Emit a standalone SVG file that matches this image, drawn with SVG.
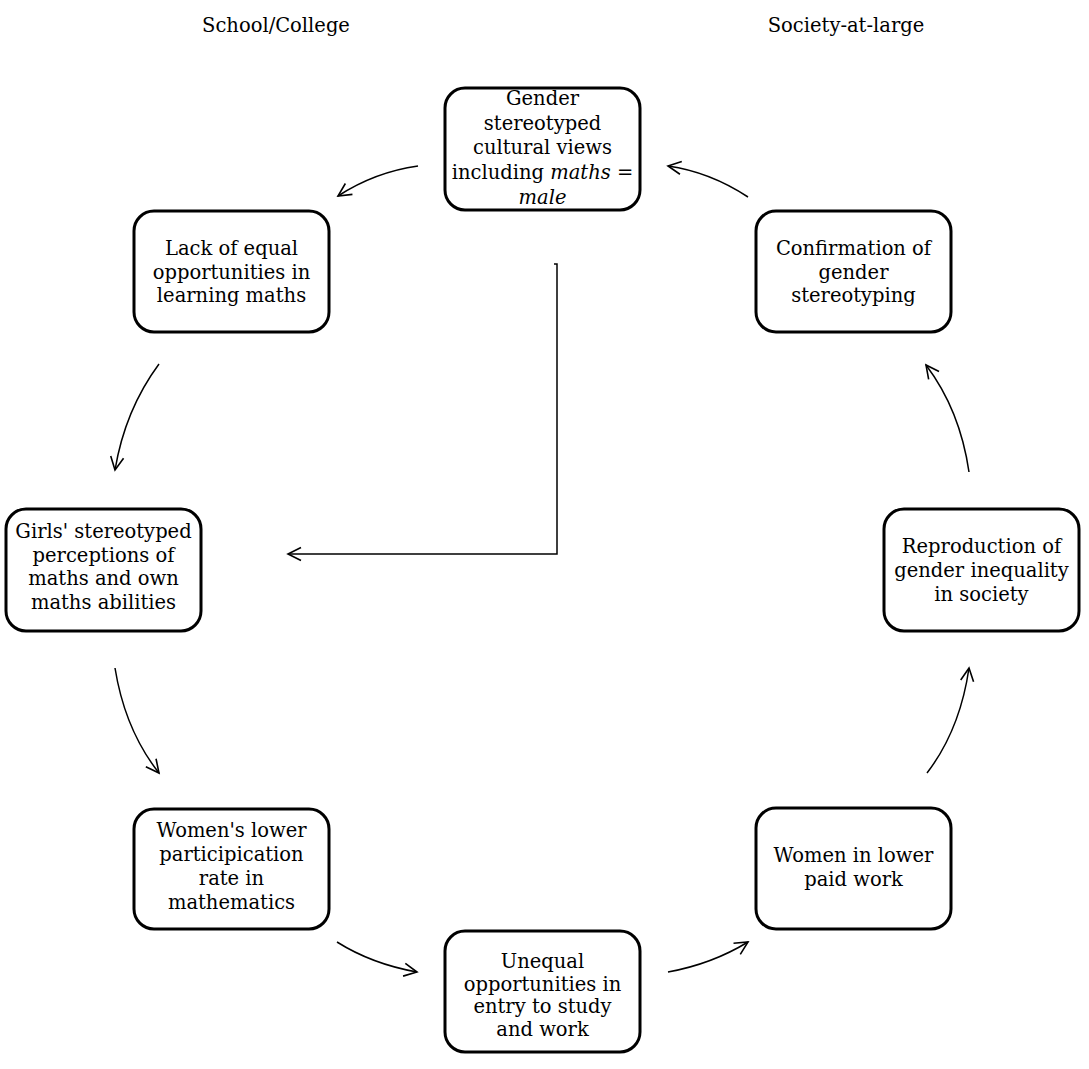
<svg xmlns="http://www.w3.org/2000/svg" width="1089" height="1069" viewBox="0 0 1089 1069">
<style>
.box{fill:#fff;stroke:#000;stroke-width:3}
.t{font-family:"DejaVu Serif","Liberation Serif",serif;font-size:19.5px;fill:#000;text-anchor:middle}
.h{font-family:"DejaVu Serif","Liberation Serif",serif;font-size:19.5px;fill:#000;text-anchor:middle}
.c{fill:none;stroke:#000;stroke-width:1.5}
</style>
<defs>
<marker id="ah" markerUnits="userSpaceOnUse" markerWidth="20" markerHeight="20" viewBox="-15 -10 20 20" refX="0" refY="0" orient="auto">
<path d="M-13,-6.5 L0,0 L-13,6.5" fill="none" stroke="#000" stroke-width="1.6"/>
</marker>
</defs>
<rect width="1089" height="1069" fill="#fff"/>
<text class="h" x="276" y="32">School/College</text>
<text class="h" x="846" y="32">Society-at-large</text>
<g id="connectors">
<path class="c" d="M418,166 Q375,172 338,196" marker-end="url(#ah)"/>
<path class="c" d="M159,364 Q125,410 115,470" marker-end="url(#ah)"/>
<path class="c" d="M115,668 Q125,730 159,773" marker-end="url(#ah)"/>
<path class="c" d="M337,942 Q372,964 417,972" marker-end="url(#ah)"/>
<path class="c" d="M668,972 Q712,964 748,942" marker-end="url(#ah)"/>
<path class="c" d="M927,773 Q960,730 969,668" marker-end="url(#ah)"/>
<path class="c" d="M969,472 Q960,410 926,365" marker-end="url(#ah)"/>
<path class="c" d="M748,197 Q710,172 668,166" marker-end="url(#ah)"/>
<path class="c" d="M554,264 L557,264 L557,554 L288,554" marker-end="url(#ah)"/>
</g>
<g id="n1">
<rect class="box" x="445" y="88" width="195" height="122" rx="20"/>
<text class="t" x="542.5" y="105">Gender</text>
<text class="t" x="542.5" y="130">stereotyped</text>
<text class="t" x="542.5" y="154">cultural views</text>
<text class="t" x="542.5" y="179">including <tspan font-style="italic">maths</tspan> =</text>
<text class="t" x="542.5" y="204" font-style="italic">male</text>
</g>
<g id="n2">
<rect class="box" x="134" y="211" width="195" height="121" rx="20"/>
<text class="t" x="231.5" y="255">Lack of equal</text>
<text class="t" x="231.5" y="279">opportunities in</text>
<text class="t" x="231.5" y="302">learning maths</text>
</g>
<g id="n3">
<rect class="box" x="6" y="509" width="195" height="122" rx="20"/>
<text class="t" x="103.5" y="538">Girls' stereotyped</text>
<text class="t" x="103.5" y="562">perceptions of</text>
<text class="t" x="103.5" y="585">maths and own</text>
<text class="t" x="103.5" y="609">maths abilities</text>
</g>
<g id="n4">
<rect class="box" x="134" y="809" width="195" height="120" rx="20"/>
<text class="t" x="231.5" y="837">Women's lower</text>
<text class="t" x="231.5" y="861">participication</text>
<text class="t" x="231.5" y="885">rate in</text>
<text class="t" x="231.5" y="909">mathematics</text>
</g>
<g id="n5">
<rect class="box" x="445" y="931" width="195" height="121" rx="20"/>
<text class="t" x="542.5" y="968">Unequal</text>
<text class="t" x="542.5" y="991">opportunities in</text>
<text class="t" x="542.5" y="1013">entry to study</text>
<text class="t" x="542.5" y="1036">and work</text>
</g>
<g id="n6">
<rect class="box" x="756" y="808" width="195" height="121" rx="20"/>
<text class="t" x="853.5" y="862">Women in lower</text>
<text class="t" x="853.5" y="886">paid work</text>
</g>
<g id="n7">
<rect class="box" x="884" y="509" width="195" height="122" rx="20"/>
<text class="t" x="981.5" y="553">Reproduction of</text>
<text class="t" x="981.5" y="577">gender inequality</text>
<text class="t" x="981.5" y="601">in society</text>
</g>
<g id="n8">
<rect class="box" x="756" y="211" width="195" height="121" rx="20"/>
<text class="t" x="853.5" y="255">Confirmation of</text>
<text class="t" x="853.5" y="279">gender</text>
<text class="t" x="853.5" y="302">stereotyping</text>
</g>
</svg>
